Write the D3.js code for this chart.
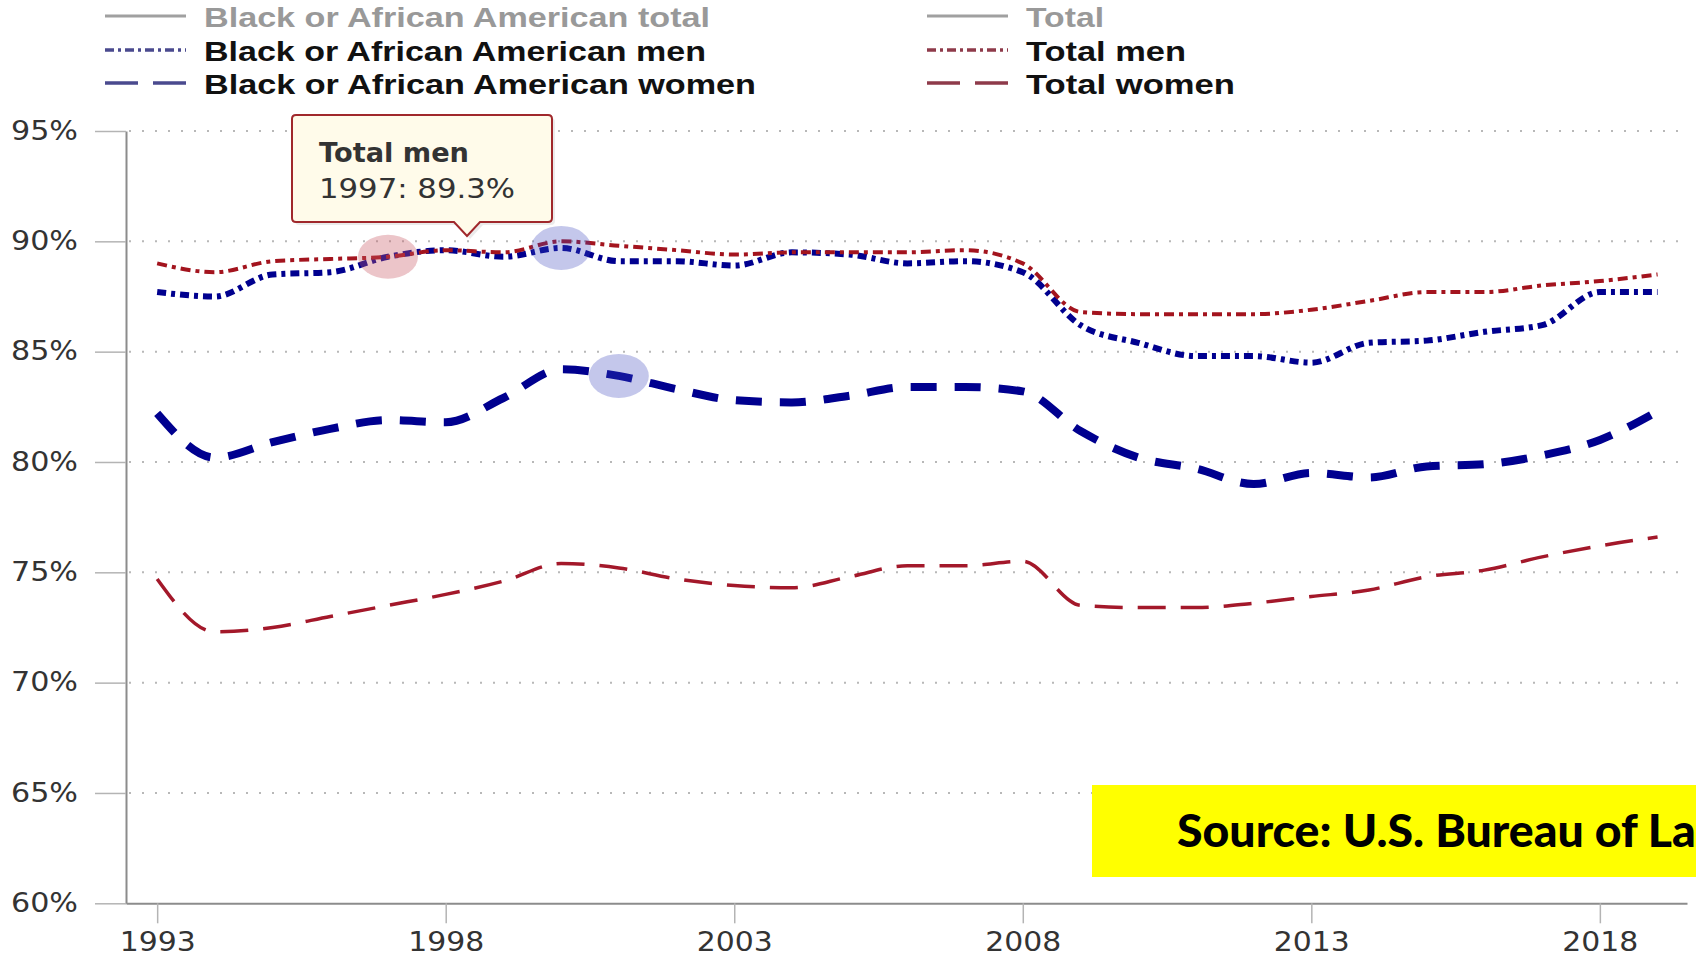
<!DOCTYPE html>
<html>
<head>
<meta charset="utf-8">
<script src="https://cdn.jsdelivr.net/npm/d3@7/dist/d3.min.js"></script>
<style>
  body { margin: 0; background: #fff; }
</style>
</head>
<body>
<script>
// data
var years = [1993, 1994, 1995, 1996, 1997, 1998, 1999, 2000, 2001, 2002, 2003, 2004, 2005, 2006,
             2007, 2008, 2009, 2010, 2011, 2012, 2013, 2014, 2015, 2016, 2017, 2018, 2019];

var blackMen   = [87.7, 87.5, 88.5, 88.6, 89.3, 89.6, 89.3, 89.7, 89.1, 89.1, 88.9, 89.5, 89.4, 89.0,
                  89.1, 88.6, 86.2, 85.4, 84.8, 84.8, 84.5, 85.4, 85.5, 85.9, 86.2, 87.7, 87.7];
var totalMen   = [89.0, 88.6, 89.1, 89.2, 89.3, 89.6, 89.5, 90.0, 89.8, 89.6, 89.4, 89.5, 89.5, 89.5,
                  89.6, 89.0, 86.8, 86.7, 86.7, 86.7, 86.9, 87.3, 87.7, 87.7, 88.0, 88.2, 88.5];
var blackWomen = [82.2, 80.2, 80.9, 81.5, 81.9, 81.8, 82.9, 84.2, 83.9, 83.3, 82.8, 82.7, 83.0, 83.4,
                  83.4, 83.2, 81.4, 80.2, 79.7, 79.0, 79.5, 79.3, 79.8, 79.9, 80.3, 81.0, 82.3];
var totalWomen = [74.7, 72.3, 72.5, 73.0, 73.5, 74.0, 74.6, 75.4, 75.2, 74.7, 74.4, 74.3, 74.8, 75.3,
                  75.3, 75.5, 73.5, 73.4, 73.4, 73.6, 73.9, 74.2, 74.8, 75.1, 75.7, 76.2, 76.6];

var yTicks = [60, 65, 70, 75, 80, 85, 90, 95];
var xTicks = [1993, 1998, 2003, 2008, 2013, 2018];

var legendLeft  = ["Black or African American total", "Black or African American men", "Black or African American women"];
var legendRight = ["Total", "Total men", "Total women"];

var sourceText = "Source: U.S. Bureau of Labor Statistics";

var W = 1696, H = 959;

var svg = d3.select("body").append("svg")
  .attr("width", W)
  .attr("height", H);

var left = 126, right = 1687;

var x = d3.scaleLinear()
    .domain([1992.46, 2019.51])
    .range([left, right]);

var y = d3.scaleLinear()
    .domain([60, 95])
    .range([903.3, 131]);

// dotted grid
svg.append("g").selectAll("line")
  .data(yTicks.filter(function(d) { return d > 60; }))
  .enter().append("line")
  .attr("x1", left + 3).attr("x2", right)
  .attr("y1", function(d) { return y(d); })
  .attr("y2", function(d) { return y(d); })
  .style("stroke", "#b8b8b8")
  .style("stroke-width", 2)
  .style("stroke-dasharray", "2,11");

// axes
var yAxis = d3.axisLeft(y)
  .tickValues(yTicks)
  .tickFormat(function(d) { return d + "%"; })
  .tickSize(31)
  .tickSizeOuter(0)
  .tickPadding(17);

var gy = svg.append("g")
  .attr("transform", "translate(" + left + ",0)")
  .call(yAxis);
gy.select(".domain").style("stroke", "#8c8c8c").style("stroke-width", 2);
gy.selectAll(".tick line").style("stroke", "#b4b4b4").style("stroke-width", 1.5);
gy.selectAll(".tick text")
  .style("font-family", "DejaVu Sans")
  .style("font-size", "26px")
  .style("fill", "#333")
  .attr("textLength", 67)
  .attr("lengthAdjust", "spacingAndGlyphs");

var xAxis = d3.axisBottom(x)
  .tickValues(xTicks)
  .tickFormat(d3.format("d"))
  .tickSize(20)
  .tickSizeOuter(0)
  .tickPadding(9);

var gx = svg.append("g")
  .attr("transform", "translate(0," + y(60) + ")")
  .call(xAxis);
gx.select(".domain").style("stroke", "#8c8c8c").style("stroke-width", 2);
gx.selectAll(".tick line").style("stroke", "#b4b4b4").style("stroke-width", 1.5);
gx.selectAll(".tick text")
  .style("font-family", "DejaVu Sans")
  .style("font-size", "26px")
  .style("fill", "#333")
  .attr("textLength", 76)
  .attr("lengthAdjust", "spacingAndGlyphs");

// lines
var line = d3.line()
  .curve(d3.curveMonotoneX)
  .x(function(d, i) { return x(years[i]); })
  .y(function(d) { return y(d); });

var series = [
  {values: totalWomen, color: "#a3182a", width: 3.5, dash: "28,15"},
  {values: blackWomen, color: "#00008f", width: 8,   dash: "26,18"},
  {values: blackMen,   color: "#00008f", width: 6,   dash: "9,5,4,5"},
  {values: totalMen,   color: "#a3141e", width: 4,   dash: "10,5,4,5"}
];

svg.append("g").selectAll("path")
  .data(series).enter()
  .append("path")
  .attr("d", function(s) { return line(s.values); })
  .style("fill", "none")
  .style("stroke", function(s) { return s.color; })
  .style("stroke-width", function(s) { return s.width; })
  .style("stroke-dasharray", function(s) { return s.dash; });

// hover highlights left in the screenshot
var hovers = [
  {year: 1997, values: totalMen, fill: "rgba(200,90,100,0.35)"},
  {year: 2000, values: blackMen, fill: "rgba(60,70,190,0.3)"},
  {year: 2001, values: blackWomen, fill: "rgba(60,70,190,0.3)"}
];
svg.append("g").selectAll("ellipse")
  .data(hovers).enter()
  .append("ellipse")
  .attr("cx", function(d) { return x(d.year); })
  .attr("cy", function(d) { return y(d.values[years.indexOf(d.year)]); })
  .attr("rx", 30)
  .attr("ry", 22)
  .style("fill", function(d) { return d.fill; });

// tooltip
var tipYear = 1997, tipVal = totalMen[years.indexOf(tipYear)];
var bx = 292, by = 115, bw = 260, bh = 107, px = 467, r = 4;
var tipPath = "M" + (bx + r) + "," + by +
  "H" + (bx + bw - r) + "Q" + (bx + bw) + "," + by + " " + (bx + bw) + "," + (by + r) +
  "V" + (by + bh - r) + "Q" + (bx + bw) + "," + (by + bh) + " " + (bx + bw - r) + "," + (by + bh) +
  "H" + (px + 13) + "L" + px + "," + (by + bh + 14) + "L" + (px - 13) + "," + (by + bh) +
  "H" + (bx + r) + "Q" + bx + "," + (by + bh) + " " + bx + "," + (by + bh - r) +
  "V" + (by + r) + "Q" + bx + "," + by + " " + (bx + r) + "," + by + "Z";

svg.append("path")
  .attr("d", tipPath)
  .attr("transform", "translate(3,3)")
  .style("fill", "rgba(0,0,0,0.08)");
svg.append("path")
  .attr("d", tipPath)
  .style("fill", "#fffbea")
  .style("stroke", "#a0282c")
  .style("stroke-width", 2);

svg.append("text")
  .attr("x", 319).attr("y", 162)
  .style("font-family", "DejaVu Sans")
  .style("font-size", "26px")
  .style("font-weight", 700)
  .style("fill", "#333")
  .attr("textLength", 150)
  .attr("lengthAdjust", "spacingAndGlyphs")
  .text("Total men");
svg.append("text")
  .attr("x", 319).attr("y", 198)
  .style("font-family", "DejaVu Sans")
  .style("font-size", "26px")
  .style("fill", "#333")
  .attr("textLength", 196)
  .attr("lengthAdjust", "spacingAndGlyphs")
  .text(tipYear + ": " + tipVal + "%");

// legend
var rowsY = [16, 50, 83];
var leftW = [506, 502, 552], rightW = [78, 160, 209];

function legendCol(g, names, widths, lx, color) {
  names.forEach(function(name, i) {
    var ly = rowsY[i];
    if (i == 0) {
      g.append("line").attr("x1", lx).attr("x2", lx + 81).attr("y1", ly).attr("y2", ly)
        .style("stroke", "#a0a0a0").style("stroke-width", 3);
    } else if (i == 1) {
      g.append("line").attr("x1", lx).attr("x2", lx + 81).attr("y1", ly).attr("y2", ly)
        .style("stroke", color).style("stroke-width", 3.5).style("stroke-dasharray", "9,4,3,4");
    } else {
      g.append("line").attr("x1", lx).attr("x2", lx + 81).attr("y1", ly).attr("y2", ly)
        .style("stroke", color).style("stroke-width", 3.5).style("stroke-dasharray", "33,15");
    }
    g.append("text")
      .attr("x", lx + 99).attr("y", ly + 11)
      .style("font-family", "Liberation Sans")
      .style("font-size", "28px")
      .style("font-weight", 700)
      .style("fill", i == 0 ? "#999" : "#111")
      .attr("textLength", widths[i])
      .attr("lengthAdjust", "spacingAndGlyphs")
      .text(name);
  });
}
var lg = svg.append("g");
legendCol(lg, legendLeft, leftW, 105, "#4a4a8e");
legendCol(lg, legendRight, rightW, 927, "#8e3a4a");

// source banner (text runs off the right edge, as in the original slide)
svg.append("rect")
  .attr("x", 1092).attr("y", 785)
  .attr("width", W - 1092).attr("height", 92)
  .style("fill", "#ffff00");

var src = svg.append("text")
  .style("font-family", "Lato")
  .style("font-size", "46px")
  .style("font-weight", 900)
  .style("fill", "#000")
  .text(sourceText);
var prefix = src.node().getSubStringLength(0, 23);
src.attr("transform", "translate(1177,847) scale(" + (471 / prefix) + ",1)");
</script>
</body>
</html>
